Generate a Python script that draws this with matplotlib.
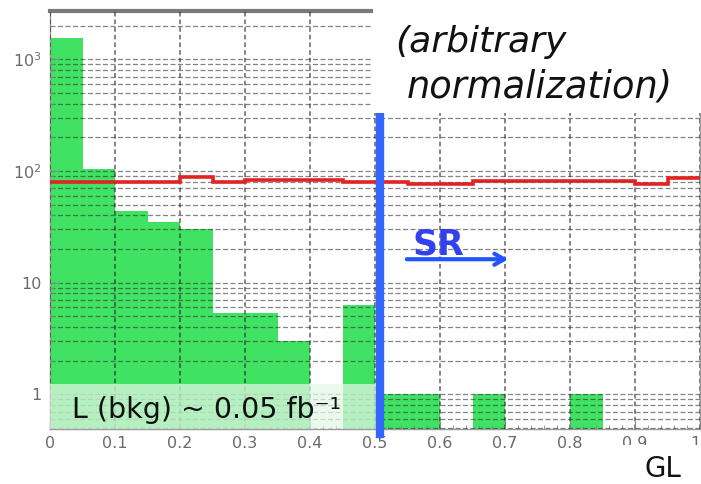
import numpy as np
import matplotlib.pyplot as plt
from matplotlib.patches import Rectangle
from matplotlib.ticker import FixedLocator, FixedFormatter, LogLocator, MultipleLocator

# GL distribution, 0.05-wide bins from 0 to 1
bin_edges = np.linspace(0.0, 1.0, 21)
bkg_counts = [1550, 105, 44, 35, 30, 5.3, 5.3, 3.0, 0, 6.3,
              1, 1, 0, 1, 0, 0, 1, 0, 0, 0]
sig_counts = [79, 79, 79, 79, 88, 79, 83, 83, 83, 79,
              79, 77, 77, 81, 81, 81, 81, 81, 77, 86]

x_ticks = [0.0, 0.1, 0.2, 0.3, 0.4, 0.5, 0.6, 0.7, 0.8, 0.9, 1.0]
x_labels = ['0', '0.1', '0.2', '0.3', '0.4', '0.5', '0.6', '0.7', '0.8', '0.9', '1']
y_ticks = [1, 10, 100, 1000]
y_labels = ['1', '10', '$10^2$', '$10^3$']

sr_cut = 0.508

W, H = 701, 484


def px(x, y):
    """pixel position -> figure fraction"""
    return x / W, 1 - y / H


fig = plt.figure(figsize=(W / 100, H / 100), dpi=100)
ax = fig.add_axes([50 / W, (H - 429) / H, 650 / W, 418.5 / H])

# background (green) and signal (red) histograms
ax.bar(bin_edges[:-1], bkg_counts, width=0.05, align='edge',
       color='#3fe262', edgecolor='none', zorder=1)
ax.stairs(sig_counts, bin_edges, baseline=None, color='#e02424', lw=2.6,
          zorder=4)

ax.set_yscale('log')
ax.set_xlim(0, 1)
ax.set_ylim(0.488, 2740)

ax.xaxis.set_major_locator(FixedLocator(x_ticks))
ax.xaxis.set_major_formatter(FixedFormatter(x_labels))
ax.xaxis.set_minor_locator(MultipleLocator(0.02))
ax.yaxis.set_major_locator(FixedLocator(y_ticks))
ax.yaxis.set_major_formatter(FixedFormatter(y_labels))
ax.yaxis.set_minor_locator(LogLocator(base=10, subs=np.arange(2, 10)))

ax.tick_params(which='both', direction='in', colors='#888888',
               labelcolor='#6a6a6a', labelsize=11.5)
ax.tick_params(axis='x', which='major', length=6, pad=5)
ax.tick_params(axis='x', which='minor', length=3)
ax.tick_params(axis='y', which='major', length=7, pad=6)
ax.tick_params(axis='y', which='minor', length=3)
# last label sits against the right edge
ax.get_xticklabels()[-1].set_horizontalalignment('right')

# ROOT-style dashed grid on every tick
ax.set_axisbelow(False)
ax.grid(True, axis='x', which='major', color='#222222', lw=1.1,
        ls=(0, (3, 2)), alpha=0.7)
ax.grid(True, axis='y', which='both', color='#333333', lw=0.9,
        ls=(0, (4, 2)), alpha=0.6)

for side in ['left', 'bottom', 'right']:
    ax.spines[side].set_color('#9a9a9a')
    ax.spines[side].set_linewidth(1.0)
ax.spines['top'].set_color('#7a7a7a')
ax.spines['top'].set_linewidth(3.0)

# luminosity label on a pale band
ax.add_patch(Rectangle((0, 0), sr_cut, 0.108, transform=ax.transAxes,
                       facecolor='#e4f8e6', edgecolor='none', alpha=0.72,
                       zorder=3))
fig.text(*px(72, 418), 'L (bkg) ~ 0.05 fb\u207b\u00b9', fontsize=20.5,
         color='#111111', va='baseline', ha='left', zorder=10)

# white box for the normalization note
fig.add_artist(Rectangle(px(373, 113), (W - 373) / W, 113 / H,
                         transform=fig.transFigure, facecolor='white',
                         edgecolor='none', zorder=5))
fig.text(*px(395, 52), '(arbitrary', fontsize=26, style='italic',
         color='#111111', va='baseline', ha='left', zorder=6)
fig.text(*px(407, 97), 'normalization)', fontsize=26.5, style='italic',
         color='#111111', va='baseline', ha='left', zorder=6)

# signal region cut and arrow
ax.axvline(sr_cut, ymin=-0.012, ymax=0.99, color='#3366ff', lw=6,
           clip_on=False, zorder=7)
ax.text(0.558, 17.9, 'SR', fontsize=25, fontweight='bold', color='#3340ee',
        ha='left', va='baseline', zorder=6)
ax.annotate('', xy=(0.705, 16.2), xytext=(0.549, 16.2),
            arrowprops=dict(arrowstyle='->,head_length=0.7,head_width=0.4',
                            color='#2255ff', lw=3, shrinkA=0, shrinkB=0),
            zorder=6)

# axis title box at bottom right
fig.add_artist(Rectangle(px(622, H), (W - 622) / W, (H - 445) / H,
                         transform=fig.transFigure, facecolor='white',
                         edgecolor='none', zorder=5))
fig.text(*px(645, 477), 'GL', fontsize=20, color='#111111',
         va='baseline', ha='left', zorder=6)

fig.savefig('out.png', dpi=100)
